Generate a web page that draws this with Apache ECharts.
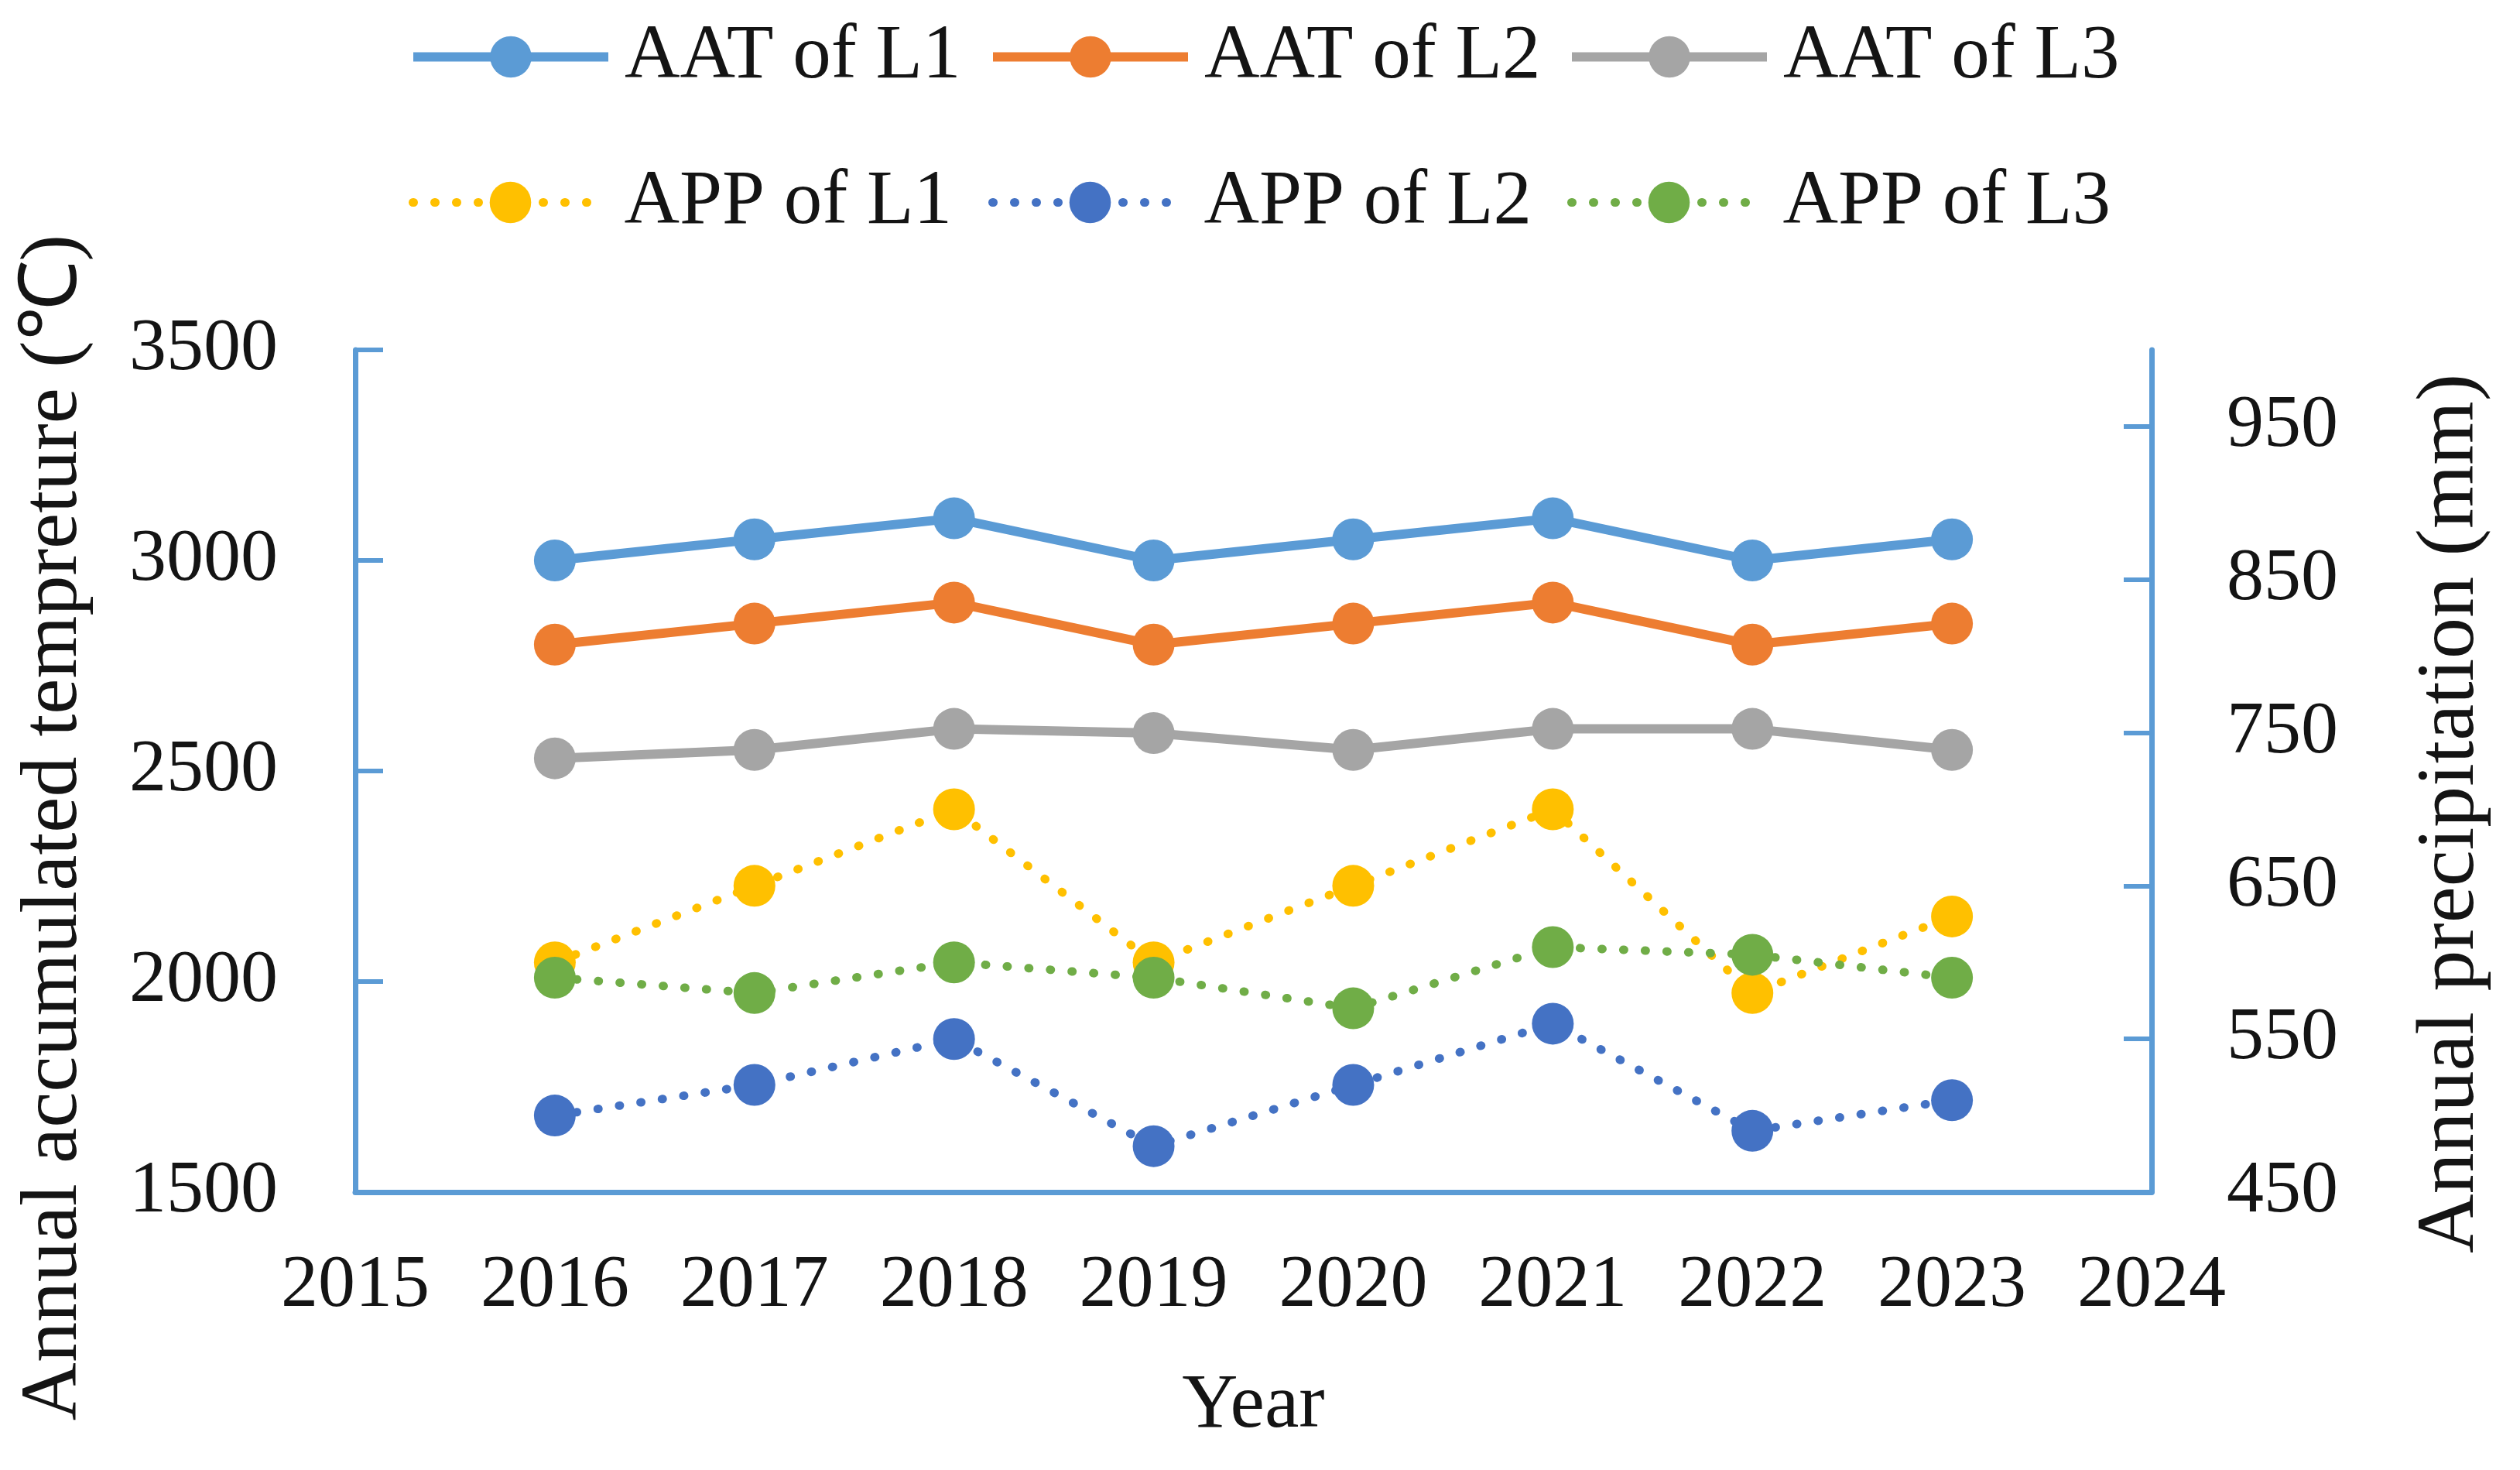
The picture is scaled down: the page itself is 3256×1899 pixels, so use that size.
<!DOCTYPE html>
<html>
<head>
<meta charset="utf-8">
<script src="https://cdn.jsdelivr.net/npm/echarts@6/dist/echarts.min.js"></script>
<style>
html,body{margin:0;padding:0;background:#fff;}
#chart{width:3256px;height:1899px;}
</style>
</head>
<body>
<div id="chart"></div>
<script>
// ---- data ----
const years = [2016, 2017, 2018, 2019, 2020, 2021, 2022, 2023];
const aatL1 = [3000, 3050, 3100, 3000, 3050, 3100, 3000, 3050];
const aatL2 = [2800, 2850, 2900, 2800, 2850, 2900, 2800, 2850];
const aatL3 = [2530, 2550, 2600, 2590, 2550, 2600, 2600, 2550];
const appL1 = [600, 650, 700, 600, 650, 700, 580, 630];
const appL2 = [500, 520, 550, 480, 520, 560, 490, 510];
const appL3 = [590, 580, 600, 590, 570, 610, 605, 590];
const seriesNames = ['AAT of L1', 'AAT of L2', 'AAT of L3', 'APP of L1', 'APP of L2', 'APP of L3'];
const rightTicks = [450, 550, 650, 750, 850, 950];

const FONT = 'Liberation Serif';
const TXT = '#141414';
const AXIS = '#5B9BD5';
const colors = ['#5B9BD5', '#ED7D31', '#A5A5A5', '#FFC000', '#4472C4', '#70AD47'];
const SOLID_LINE = { width: 12 };
const DOT_LINE = { width: 11, type: [1, 27], cap: 'round' };

function pairs(vals) { return years.map((y, i) => [y, vals[i]]); }
const plain = v => String(v);

function solid(name, vals, color) {
  return {
    name: name, type: 'line', yAxisIndex: 0, data: pairs(vals),
    symbol: 'circle', symbolSize: 54,
    itemStyle: { color: color },
    lineStyle: Object.assign({ color: color }, SOLID_LINE),
    z: 2
  };
}
function dotted(name, vals, color) {
  return {
    name: name, type: 'line', yAxisIndex: 1, data: pairs(vals),
    symbol: 'circle', symbolSize: 54,
    itemStyle: { color: color },
    lineStyle: Object.assign({ color: color }, DOT_LINE),
    z: 3
  };
}
function legendItem(name, left, top, ls) {
  return {
    data: [name], left: left, top: top, padding: 0,
    itemWidth: 252, itemHeight: 67, itemGap: 0, selectedMode: false,
    lineStyle: ls,
    textStyle: { fontFamily: FONT, fontSize: 99, color: TXT, padding: [0, 0, 0, 16] }
  };
}

const chart = echarts.init(document.getElementById('chart'));
chart.setOption({
  animation: false,
  backgroundColor: '#fff',
  legend: [
    legendItem(seriesNames[0], 528, 24, SOLID_LINE),
    legendItem(seriesNames[1], 1277, 24, SOLID_LINE),
    legendItem(seriesNames[2], 2025, 24, SOLID_LINE),
    legendItem(seriesNames[3], 528, 212, DOT_LINE),
    legendItem(seriesNames[4], 1277, 212, DOT_LINE),
    legendItem(seriesNames[5], 2025, 212, DOT_LINE)
  ],
  grid: { left: 459, right: 476, top: 452, bottom: 359, containLabel: false },
  xAxis: {
    type: 'value', min: 2015, max: 2024, interval: 1,
    name: 'Year', nameLocation: 'middle', nameGap: 227,
    nameTextStyle: { fontFamily: FONT, fontSize: 100, color: TXT },
    axisLine: { show: true, lineStyle: { color: AXIS, width: 7 } },
    axisTick: { show: false },
    splitLine: { show: false },
    axisLabel: { fontFamily: FONT, fontSize: 96, color: TXT, margin: 74, formatter: plain }
  },
  yAxis: [
    {
      type: 'value', min: 1500, max: 3500, interval: 500, position: 'left',
      name: 'Annual accumulated tempreture (℃)', nameLocation: 'middle', nameGap: 336,
      nameTextStyle: { fontFamily: FONT, fontSize: 104, color: TXT, padding: [0, 146, 0, 0] },
      axisLine: { show: true, lineStyle: { color: AXIS, width: 7 } },
      axisTick: { show: true, inside: true, length: 36, lineStyle: { color: AXIS, width: 6 } },
      splitLine: { show: false },
      axisLabel: { fontFamily: FONT, fontSize: 96, color: TXT, margin: 100, formatter: plain }
    },
    {
      type: 'value', min: 450, max: 1000, interval: 50, position: 'right',
      name: 'Annual precipitation (mm)', nameLocation: 'middle', nameGap: 334,
      nameTextStyle: { fontFamily: FONT, fontSize: 106, color: TXT, padding: [0, 110, 0, 0] },
      axisLine: { show: true, lineStyle: { color: AXIS, width: 7 } },
      axisTick: { show: true, inside: true, length: 36, customValues: rightTicks, lineStyle: { color: AXIS, width: 6 } },
      splitLine: { show: false },
      axisLabel: { fontFamily: FONT, fontSize: 96, color: TXT, margin: 97, customValues: rightTicks, formatter: plain }
    }
  ],
  series: [
    solid(seriesNames[0], aatL1, colors[0]),
    solid(seriesNames[1], aatL2, colors[1]),
    solid(seriesNames[2], aatL3, colors[2]),
    dotted(seriesNames[3], appL1, colors[3]),
    dotted(seriesNames[4], appL2, colors[4]),
    dotted(seriesNames[5], appL3, colors[5])
  ]
});
</script>
</body>
</html>
